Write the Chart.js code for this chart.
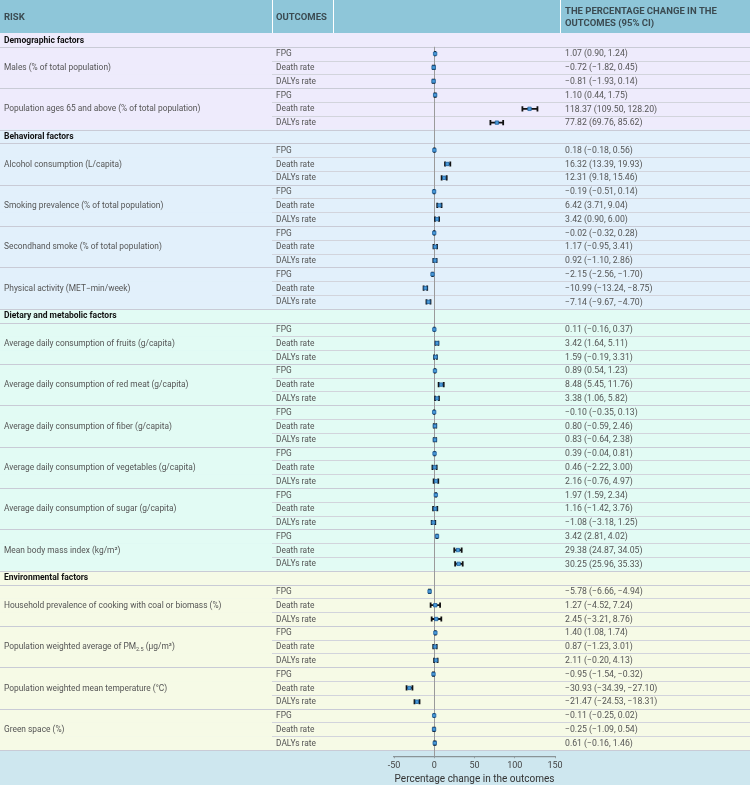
<!DOCTYPE html>
<html>
<head>
<meta charset="utf-8">
<script src="https://cdn.jsdelivr.net/npm/chart.js@4.4.1/dist/chart.umd.min.js"></script>
<style>
  body { margin: 0; background: #cee7ef; }
  #wrap { width: 750px; height: 785px; }
</style>
</head>
<body>
<div id="wrap"><canvas id="forest" width="750" height="785"></canvas></div>
<script>
// Datos de la tabla
const sections = ['Demographic factors', 'Behavioral factors', 'Dietary and metabolic factors', 'Environmental factors'];
const risks = [
  'Males (% of total population)',
  'Population ages 65 and above (% of total population)',
  'Alcohol consumption (L/capita)',
  'Smoking prevalence (% of total population)',
  'Secondhand smoke (% of total population)',
  'Physical activity (MET\u2212min/week)',
  'Average daily consumption of fruits (g/capita)',
  'Average daily consumption of red meat (g/capita)',
  'Average daily consumption of fiber (g/capita)',
  'Average daily consumption of vegetables (g/capita)',
  'Average daily consumption of sugar (g/capita)',
  'Mean body mass index (kg/m\u00b2)',
  'Household prevalence of cooking with coal or biomass (%)',
  'Population weighted average of PM2.5 (\u03bcg/m\u00b3)',
  'Population weighted mean temperature (\u00b0C)',
  'Green space (%)'
];
const riskSection = [0, 0, 1, 1, 1, 1, 2, 2, 2, 2, 2, 2, 3, 3, 3, 3];
const outcomes = ['FPG', 'Death rate', 'DALYs rate'];

// FPG, Death rate, DALYs rate para cada factor
const estimate = [
  1.07, -0.72, -0.81,
  1.10, 118.37, 77.82,
  0.18, 16.32, 12.31,
  -0.19, 6.42, 3.42,
  -0.02, 1.17, 0.92,
  -2.15, -10.99, -7.14,
  0.11, 3.42, 1.59,
  0.89, 8.48, 3.38,
  -0.10, 0.80, 0.83,
  0.39, 0.46, 2.16,
  1.97, 1.16, -1.08,
  3.42, 29.38, 30.25,
  -5.78, 1.27, 2.45,
  1.40, 0.87, 2.11,
  -0.95, -30.93, -21.47,
  -0.11, -0.25, 0.61
];
const lower = [
  0.90, -1.82, -1.93,
  0.44, 109.50, 69.76,
  -0.18, 13.39, 9.18,
  -0.51, 3.71, 0.90,
  -0.32, -0.95, -1.10,
  -2.56, -13.24, -9.67,
  -0.16, 1.64, -0.19,
  0.54, 5.45, 1.06,
  -0.35, -0.59, -0.64,
  -0.04, -2.22, -0.76,
  1.59, -1.42, -3.18,
  2.81, 24.87, 25.96,
  -6.66, -4.52, -3.21,
  1.08, -1.23, -0.20,
  -1.54, -34.39, -24.53,
  -0.25, -1.09, -0.16
];
const upper = [
  1.24, 0.45, 0.14,
  1.75, 128.20, 85.62,
  0.56, 19.93, 15.46,
  0.14, 9.04, 6.00,
  0.28, 3.41, 2.86,
  -1.70, -8.75, -4.70,
  0.37, 5.11, 3.31,
  1.23, 11.76, 5.82,
  0.13, 2.46, 2.38,
  0.81, 3.00, 4.97,
  2.34, 3.76, 1.25,
  4.02, 34.05, 35.33,
  -4.94, 7.24, 8.76,
  1.74, 3.01, 4.13,
  -0.32, -27.10, -18.31,
  0.02, 0.54, 1.46
];
const xTicks = [-50, 0, 50, 100, 150];

// Colores de cada sección
const sectionColors = ['#eeebfc', '#e2f0fb', '#e2fbf4', '#f6fae6'];

// Construir las filas de la tabla
const rows = [];
sections.forEach((s, si) => {
  rows.push({ type: 'section', section: si, label: s });
  risks.forEach((r, ri) => {
    if (riskSection[ri] !== si) return;
    outcomes.forEach((o, oi) => {
      rows.push({ type: 'data', section: si, risk: ri, outcome: oi, idx: ri * 3 + oi });
    });
  });
});

function fmt(v) {
  return v.toFixed(2).replace('-', '\u2212');
}

const points = [];
rows.forEach((r, i) => {
  if (r.type === 'data') points.push({ x: estimate[r.idx], y: i + 0.5, lo: lower[r.idx], hi: upper[r.idx] });
});

const FONT = 'Roboto, "Noto Sans", sans-serif';

// Dibuja el fondo y los textos de la tabla
const tablePlugin = {
  id: 'tablePlugin',
  beforeDraw(chart) {
    const ctx = chart.ctx;
    const y = chart.scales.y;
    const W = chart.width;
    const top = y.getPixelForValue(0);
    const rowH = y.getPixelForValue(1) - top;
    ctx.save();
    ctx.fillStyle = '#cee7ef';
    ctx.fillRect(0, 0, W, chart.height);

    // Encabezado
    ctx.fillStyle = '#8ec6d9';
    ctx.fillRect(0, 0, W, top);
    ctx.strokeStyle = '#ffffff';
    ctx.lineWidth = 1;
    [272.5, 333.5, 560.5].forEach(x => {
      ctx.beginPath(); ctx.moveTo(x, 0); ctx.lineTo(x, top); ctx.stroke();
    });
    ctx.fillStyle = '#3b4b52';
    ctx.font = 'bold 9.5px ' + FONT;
    ctx.textBaseline = 'middle';
    ctx.fillText('RISK', 4, top / 2 + 1);
    ctx.fillText('OUTCOMES', 276, top / 2 + 1);
    ctx.fillText('THE PERCENTAGE CHANGE IN THE', 565, 12);
    ctx.fillText('OUTCOMES (95% CI)', 565, 24);

    // Fondos de las filas
    rows.forEach((r, i) => {
      ctx.fillStyle = sectionColors[r.section];
      ctx.fillRect(0, top + i * rowH, W, rowH + 0.5);
    });

    // Líneas separadoras
    ctx.lineWidth = 1;
    rows.forEach((r, i) => {
      const yb = Math.round(top + (i + 1) * rowH) + 0.5;
      const full = r.type === 'section' || r.outcome === 2;
      ctx.strokeStyle = full ? '#c9cbd6' : '#d2d4dc';
      ctx.beginPath();
      ctx.moveTo(full ? 0 : 272, yb);
      ctx.lineTo(W, yb);
      ctx.stroke();
    });

    // Textos
    rows.forEach((r, i) => {
      const yc = top + (i + 0.5) * rowH + 0.5;
      if (r.type === 'section') {
        ctx.fillStyle = '#111111';
        ctx.font = 'bold 8.5px ' + FONT;
        ctx.fillText(r.label, 4, yc);
        return;
      }
      ctx.fillStyle = '#555555';
      ctx.font = '8.4px ' + FONT;
      ctx.fillText(outcomes[r.outcome], 276, yc);
      if (r.outcome === 1) {
        const name = risks[r.risk];
        if (name.includes('PM2.5')) {
          const parts = name.split('PM2.5');
          let x = 4;
          const a = parts[0] + 'PM';
          ctx.fillText(a, x, yc);
          x += ctx.measureText(a).width;
          ctx.font = '5.5px ' + FONT;
          ctx.fillText('2.5', x, yc + 3);
          x += ctx.measureText('2.5').width;
          ctx.font = '8.4px ' + FONT;
          ctx.fillText(parts[1], x, yc);
        } else {
          ctx.fillText(name, 4, yc);
        }
      }
      ctx.font = '8.7px ' + FONT;
      ctx.fillText(fmt(estimate[r.idx]) + ' (' + fmt(lower[r.idx]) + ', ' + fmt(upper[r.idx]) + ')', 565, yc);
    });
    ctx.restore();
  },
  beforeDatasetsDraw(chart) {
    const ctx = chart.ctx;
    const x = chart.scales.x;
    const y = chart.scales.y;
    ctx.save();
    // Línea del cero
    const x0 = Math.round(x.getPixelForValue(0)) + 0.5;
    ctx.strokeStyle = '#9a9a9a';
    ctx.lineWidth = 1;
    ctx.beginPath();
    ctx.moveTo(x0, y.getPixelForValue(1));
    ctx.lineTo(x0, chart.chartArea.bottom);
    ctx.stroke();
    // Intervalos de confianza
    ctx.strokeStyle = '#111111';
    ctx.lineWidth = 1.8;
    points.forEach(p => {
      const yp = y.getPixelForValue(p.y);
      const xl = x.getPixelForValue(p.lo);
      const xh = x.getPixelForValue(p.hi);
      ctx.beginPath();
      ctx.moveTo(xl, yp); ctx.lineTo(xh, yp);
      ctx.moveTo(xl, yp - 2.6); ctx.lineTo(xl, yp + 2.6);
      ctx.moveTo(xh, yp - 2.6); ctx.lineTo(xh, yp + 2.6);
      ctx.stroke();
    });
    ctx.restore();
  }
};

const ctx = document.getElementById('forest').getContext('2d');
const forest = new Chart(ctx, {
  type: 'scatter',
  data: {
    datasets: [{
      data: points,
      pointStyle: 'rect',
      pointRadius: 2.4,
      backgroundColor: '#4a9bd9',
      borderColor: '#20609c',
      borderWidth: 0.8
    }]
  },
  options: {
    responsive: false,
    animation: false,
    events: [],
    layout: { padding: { top: 33, left: 394, right: 195, bottom: 0 } },
    plugins: { legend: { display: false }, tooltip: { enabled: false } },
    scales: {
      x: {
        type: 'linear',
        min: -50,
        max: 150,
        afterBuildTicks: axis => { axis.ticks = xTicks.map(v => ({ value: v })); },
        grid: { drawOnChartArea: false, drawTicks: true, tickLength: 2, color: '#8a9497' },
        border: { color: '#8a9497', width: 1.2 },
        ticks: { color: '#444', font: { family: FONT, size: 9 }, padding: 2 },
        title: { display: true, text: 'Percentage change in the outcomes', color: '#333', font: { family: FONT, size: 10 }, padding: { top: 0, bottom: 0 } }
      },
      y: {
        type: 'linear',
        display: false,
        reverse: true,
        min: 0,
        max: 52.45
      }
    }
  },
  plugins: [tablePlugin]
});
</script>
</body>
</html>
